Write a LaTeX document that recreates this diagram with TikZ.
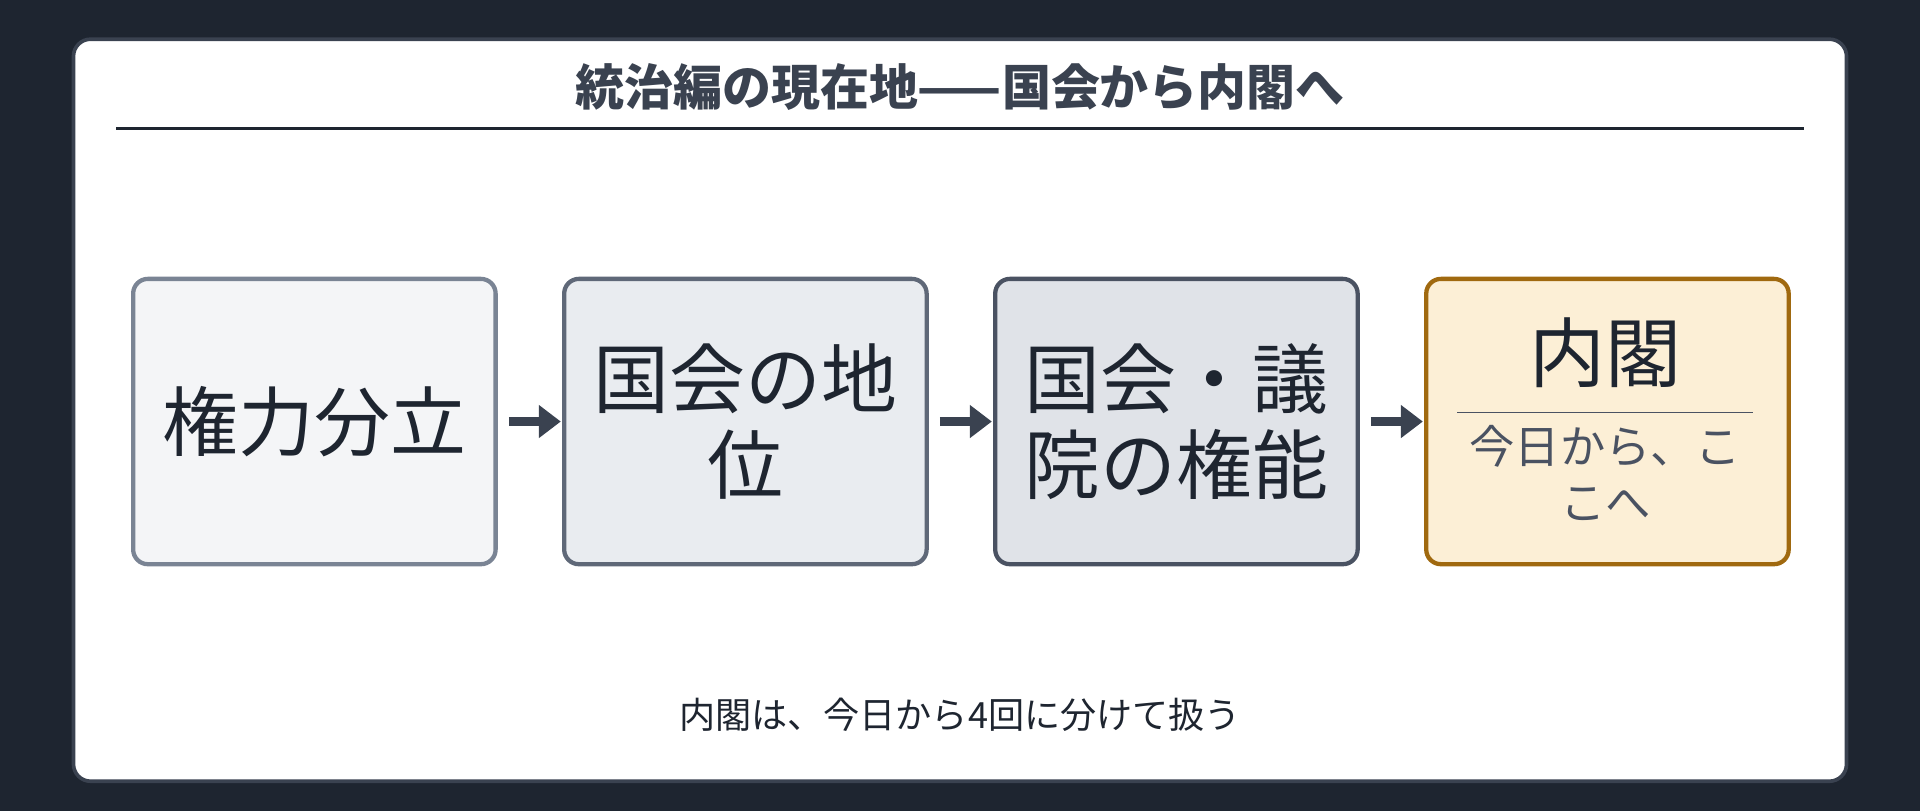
\documentclass[tikz,border=0pt]{standalone}
\usepackage{fontspec}
\setmainfont{Noto Sans CJK JP}
\usetikzlibrary{arrows.meta}
\definecolor{bg}{HTML}{1E2530}
\definecolor{ink}{HTML}{1E2530}
\definecolor{slate}{HTML}{3A4250}
\definecolor{subt}{HTML}{4A5262}
\tikzset{
 box/.style={draw,line width=3.5pt,rounded corners=12pt,minimum width=296pt,minimum height=233pt,anchor=north west},
 big/.style={font=\fontsize{62}{70}\selectfont,text=ink,align=center},
 arr/.style={draw=slate,line width=7pt,-{Triangle[length=18pt,width=26pt]}}
}
\begin{document}
\begin{tikzpicture}[x=1pt,y=-1pt]
\fill[bg] (0,0) rectangle (1568,662);
\useasboundingbox (0,0) rectangle (1568,662);
\draw[fill=white,draw=slate,line width=3pt,rounded corners=14pt] (60,32) rectangle (1508,638);
\node[font=\bfseries\fontsize{40}{46}\selectfont,text=slate] (title) at (784,71) {統治編の現在地——国会から内閣へ};
\draw[ink,line width=2pt] (95,105) coordinate (l1) -- (1473,105) coordinate (l2);
\node[box,fill={rgb,255:red,244;green,245;blue,247},draw={rgb,255:red,122;green,132;blue,148}] (b1) at (107,226) {};
\node[box,fill={rgb,255:red,233;green,236;blue,240},draw={rgb,255:red,95;green,104;blue,120}] (b2) at (459,226) {};
\node[box,fill={rgb,255:red,224;green,227;blue,232},draw={rgb,255:red,74;green,82;blue,98}] (b3) at (811,226) {};
\node[box,fill={rgb,255:red,252;green,239;blue,214},draw={rgb,255:red,160;green,105;blue,15}] (b4) at (1163,226) {};
\node[big] (t1) at (b1.center) {権力分立};
\node[big] (t2) at (b2.center) {国会の地\\位};
\node[big] (t3) at (b3.center) {国会・議\\院の権能};
\node[big] (t4) at (1311,288) {内閣};
\draw[subt,line width=1.2pt] (1190,337) coordinate (m1) -- (1432,337) coordinate (m2);
\node[font=\fontsize{37}{46}\selectfont,text=subt,align=center] (s4) at (1311,386) {今日から、こ\\こへ};
\draw[arr] (b1.east) ++(9,0) coordinate (a1) -- ([xshift=-1pt]b2.west);
\draw[arr] (b2.east) ++(9,0) coordinate (a2) -- ([xshift=-1pt]b3.west);
\draw[arr] (b3.east) ++(9,0) coordinate (a3) -- ([xshift=-1pt]b4.west);
\node[font=\fontsize{29.5}{34}\selectfont,text=ink] (foot) at (784,584) {内閣は、今日から4回に分けて扱う};
\end{tikzpicture}
\end{document}
